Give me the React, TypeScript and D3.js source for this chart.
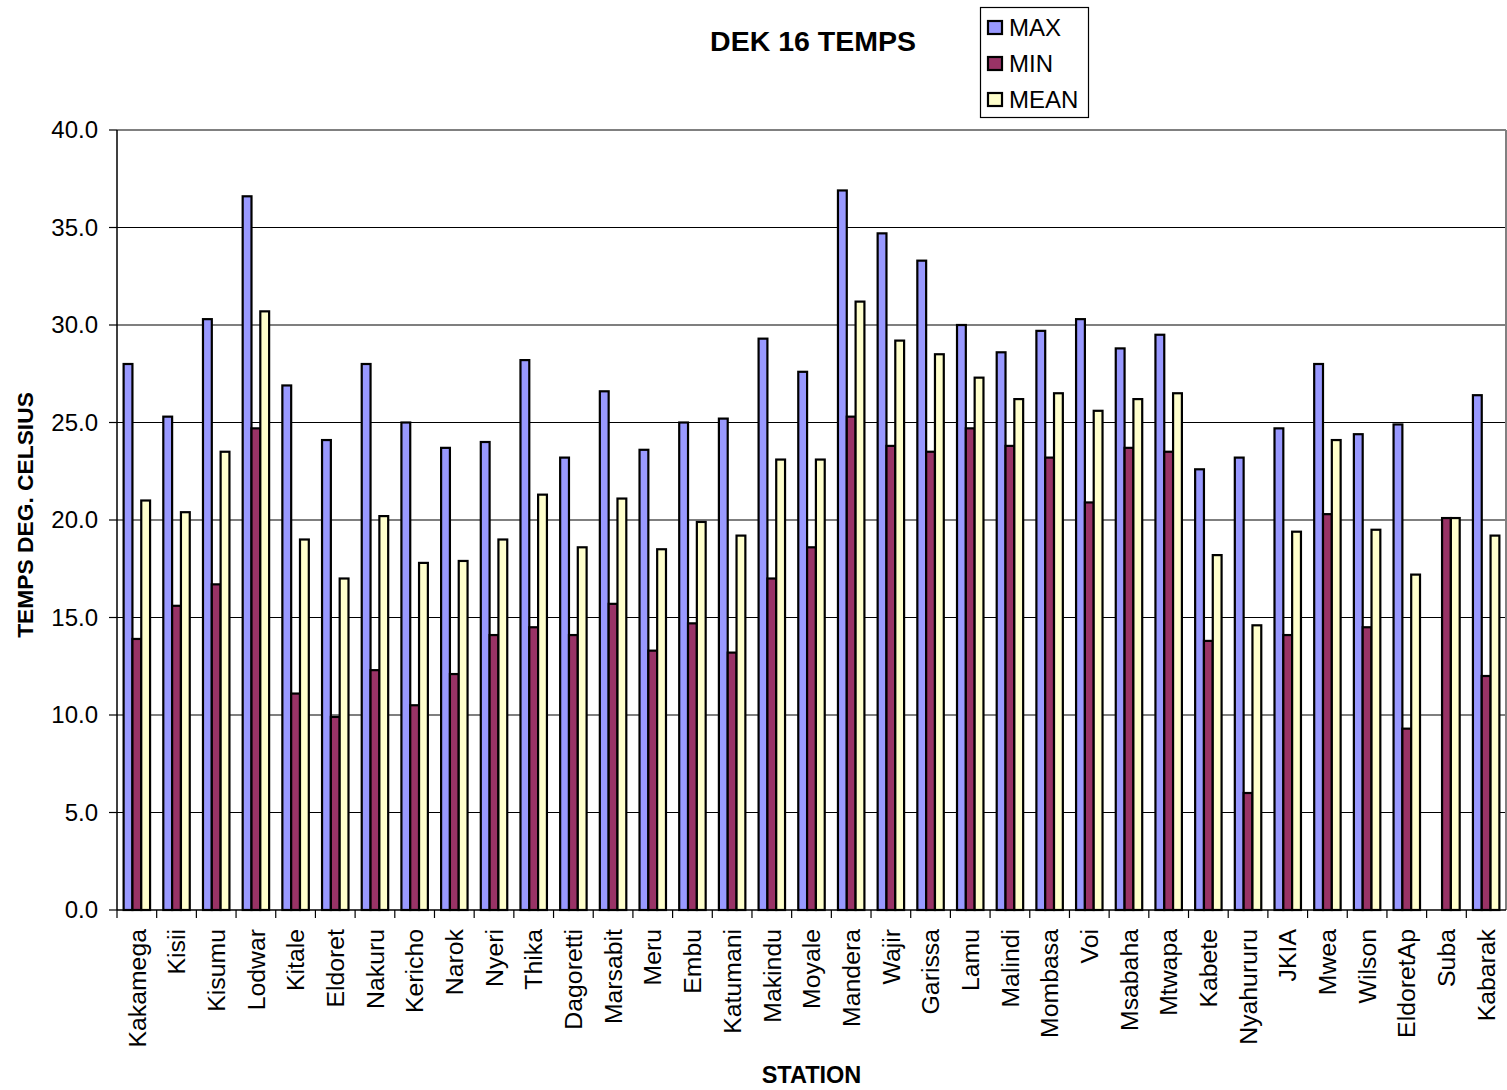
import React from "react";
import * as d3 from "d3";

const stations = [
  "Kakamega", "Kisii", "Kisumu", "Lodwar", "Kitale", "Eldoret", "Nakuru", "Kericho", "Narok", "Nyeri",
  "Thika", "Dagoretti", "Marsabit", "Meru", "Embu", "Katumani", "Makindu", "Moyale", "Mandera", "Wajir",
  "Garissa", "Lamu", "Malindi", "Mombasa", "Voi", "Msabaha", "Mtwapa", "Kabete", "Nyahururu", "JKIA",
  "Mwea", "Wilson", "EldoretAp", "Suba", "Kabarak",
];

const maxTemps: (number | null)[] = [
  28.0, 25.3, 30.3, 36.6, 26.9, 24.1, 28.0, 25.0, 23.7, 24.0,
  28.2, 23.2, 26.6, 23.6, 25.0, 25.2, 29.3, 27.6, 36.9, 34.7,
  33.3, 30.0, 28.6, 29.7, 30.3, 28.8, 29.5, 22.6, 23.2, 24.7,
  28.0, 24.4, 24.9, null, 26.4,
];

const minTemps: (number | null)[] = [
  13.9, 15.6, 16.7, 24.7, 11.1, 9.9, 12.3, 10.5, 12.1, 14.1,
  14.5, 14.1, 15.7, 13.3, 14.7, 13.2, 17.0, 18.6, 25.3, 23.8,
  23.5, 24.7, 23.8, 23.2, 20.9, 23.7, 23.5, 13.8, 6.0, 14.1,
  20.3, 14.5, 9.3, 20.1, 12.0,
];

const meanTemps: (number | null)[] = [
  21.0, 20.4, 23.5, 30.7, 19.0, 17.0, 20.2, 17.8, 17.9, 19.0,
  21.3, 18.6, 21.1, 18.5, 19.9, 19.2, 23.1, 23.1, 31.2, 29.2,
  28.5, 27.3, 26.2, 26.5, 25.6, 26.2, 26.5, 18.2, 14.6, 19.4,
  24.1, 19.5, 17.2, 20.1, 19.2,
];

const seriesNames = ["MAX", "MIN", "MEAN"];
const seriesColors = ["#9999FF", "#993366", "#FFFFCC"];
const seriesValues = [maxTemps, minTemps, meanTemps];
const yTicks = [0, 5, 10, 15, 20, 25, 30, 35, 40];

const W = 1507;
const H = 1090;
const M = { left: 117, right: 1506, top: 130, bottom: 910 };
const FONT = "'Liberation Sans', Arial, Helvetica, sans-serif";

export default function App() {
  React.useEffect(() => {
    document.body.style.margin = "0";
  }, []);

  const x0 = d3.scaleBand<string>().domain(stations).range([M.left, M.right]).paddingInner(0).paddingOuter(0);
  const x1 = d3.scaleBand<string>().domain(seriesNames).range([0, x0.bandwidth()]).paddingInner(0).paddingOuter(0.75);
  const y = d3.scaleLinear().domain([0, 40]).range([M.bottom, M.top]);

  const boundaries = stations.map((s) => x0(s) as number);

  return (
    <svg width={W} height={H} style={{ position: "absolute", left: 0, top: 0, background: "#fff" }} fontFamily={FONT}>
      <rect x={0} y={0} width={W} height={H} fill="#fff" />
      {/* gridlines */}
      {yTicks.filter((t) => t > 0 && t < 40).map((t) => (
        <line key={"g" + t} x1={M.left} x2={M.right} y1={y(t)} y2={y(t)} stroke="#000" strokeWidth={1.2} />
      ))}
      {/* plot border top/right */}
      <line x1={M.left} x2={M.right} y1={y(40)} y2={y(40)} stroke="#808080" strokeWidth={2} />
      <line x1={M.right} x2={M.right} y1={y(40)} y2={y(0)} stroke="#808080" strokeWidth={2} />

      {/* bars */}
      {stations.map((s, i) => (
        <g key={s} transform={`translate(${x0(s)},0)`}>
          {seriesNames.map((name, k) => {
            const v = seriesValues[k][i];
            if (v === null || v === undefined) return null;
            return (
              <rect
                key={name}
                x={x1(name) as number}
                y={y(v)}
                width={x1.bandwidth()}
                height={y(0) - y(v)}
                fill={seriesColors[k]}
                stroke="#000"
                strokeWidth={2.2}
              />
            );
          })}
        </g>
      ))}

      {/* axes */}
      <line x1={M.left} x2={M.left} y1={y(40)} y2={y(0)} stroke="#000" strokeWidth={1.5} />
      <line x1={M.left} x2={M.right} y1={y(0)} y2={y(0)} stroke="#000" strokeWidth={1.5} />
      {yTicks.map((t) => (
        <g key={"yt" + t}>
          <line x1={M.left - 8} x2={M.left} y1={y(t)} y2={y(t)} stroke="#000" strokeWidth={1.2} />
          <text x={M.left - 19} y={y(t)} dy="0.35em" textAnchor="end" fontSize={24} fill="#000">
            {t.toFixed(1)}
          </text>
        </g>
      ))}
      {boundaries.map((bx, i) => (
        <line key={"xt" + i} x1={bx} x2={bx} y1={y(0)} y2={y(0) + 8} stroke="#000" strokeWidth={1.2} />
      ))}
      {stations.map((s) => {
        const cx = (x0(s) as number) + x0.bandwidth() / 2;
        return (
          <text
            key={"xl" + s}
            transform={`translate(${cx},${y(0) + 19}) rotate(-90)`}
            dy="0.35em"
            textAnchor="end"
            fontSize={24.8}
            fill="#000"
          >
            {s}
          </text>
        );
      })}

      {/* titles */}
      <text x={813} y={51} textAnchor="middle" fontSize={28.5} fontWeight="bold" fill="#000">
        DEK 16 TEMPS
      </text>
      <text x={(M.left + M.right) / 2} y={1083} textAnchor="middle" fontSize={23.5} fontWeight="bold" fill="#000">
        STATION
      </text>
      <text transform={`translate(33,515) rotate(-90)`} textAnchor="middle" fontSize={22.8} fontWeight="bold" fill="#000">
        TEMPS DEG. CELSIUS
      </text>

      {/* legend */}
      <rect x={980.5} y={7.5} width={108} height={110} fill="#fff" stroke="#000" strokeWidth={1.2} />
      {seriesNames.map((name, k) => (
        <g key={"lg" + name} transform={`translate(0,${k * 36})`}>
          <rect x={988} y={21} width={14} height={13} fill={seriesColors[k]} stroke="#000" strokeWidth={2.2} />
          <text x={1009} y={36} fontSize={24} fill="#000">
            {name}
          </text>
        </g>
      ))}
    </svg>
  );
}
